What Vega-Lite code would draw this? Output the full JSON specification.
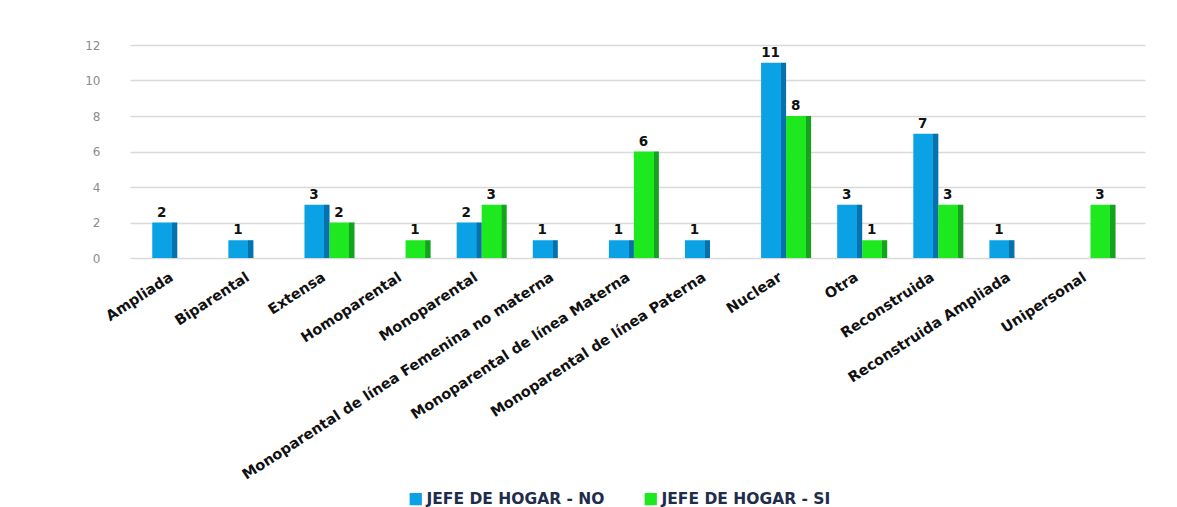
{
  "$schema": "https://vega.github.io/schema/vega-lite/v6.json",
  "width": 1015,
  "height": 213,
  "autosize": "none",
  "padding": {"left": 130, "top": 45, "right": 32, "bottom": 249},
  "background": "white",
  "config": {"view": {"stroke": null}, "font": "DejaVu Sans"},
  "data": {
    "values": [
      {"tipo": "Ampliada", "serie": "JEFE DE HOGAR - NO", "valor": 2},
      {"tipo": "Biparental", "serie": "JEFE DE HOGAR - NO", "valor": 1},
      {"tipo": "Extensa", "serie": "JEFE DE HOGAR - NO", "valor": 3},
      {"tipo": "Extensa", "serie": "JEFE DE HOGAR - SI", "valor": 2},
      {"tipo": "Homoparental", "serie": "JEFE DE HOGAR - SI", "valor": 1},
      {"tipo": "Monoparental", "serie": "JEFE DE HOGAR - NO", "valor": 2},
      {"tipo": "Monoparental", "serie": "JEFE DE HOGAR - SI", "valor": 3},
      {"tipo": "Monoparental de línea Femenina no materna", "serie": "JEFE DE HOGAR - NO", "valor": 1},
      {"tipo": "Monoparental de línea Materna", "serie": "JEFE DE HOGAR - NO", "valor": 1},
      {"tipo": "Monoparental de línea Materna", "serie": "JEFE DE HOGAR - SI", "valor": 6},
      {"tipo": "Monoparental de línea Paterna", "serie": "JEFE DE HOGAR - NO", "valor": 1},
      {"tipo": "Nuclear", "serie": "JEFE DE HOGAR - NO", "valor": 11},
      {"tipo": "Nuclear", "serie": "JEFE DE HOGAR - SI", "valor": 8},
      {"tipo": "Otra", "serie": "JEFE DE HOGAR - NO", "valor": 3},
      {"tipo": "Otra", "serie": "JEFE DE HOGAR - SI", "valor": 1},
      {"tipo": "Reconstruida", "serie": "JEFE DE HOGAR - NO", "valor": 7},
      {"tipo": "Reconstruida", "serie": "JEFE DE HOGAR - SI", "valor": 3},
      {"tipo": "Reconstruida Ampliada", "serie": "JEFE DE HOGAR - NO", "valor": 1},
      {"tipo": "Unipersonal", "serie": "JEFE DE HOGAR - SI", "valor": 3}
    ]
  },
  "encoding": {
    "x": {
      "field": "tipo", "type": "nominal", "sort": null,
      "scale": {"paddingInner": 0.343, "paddingOuter": 0.34, "align": 0.43},
      "axis": {
        "title": null, "labelAngle": -33, "labelFontWeight": "bold", "labelFontSize": 14.5,
        "labelColor": "#111111", "ticks": false, "domain": false, "labelPadding": 12,
        "labelLimit": 0, "labelOffset": -9
      }
    },
    "xOffset": {"field": "serie", "type": "nominal", "scale": {"domain": ["JEFE DE HOGAR - NO", "JEFE DE HOGAR - SI"], "paddingInner": 0}},
    "y": {
      "field": "valor", "type": "quantitative",
      "scale": {"domain": [0, 12], "nice": false},
      "axis": {
        "title": null, "values": [0, 2, 4, 6, 8, 10, 12], "labelColor": "#8c8c8c", "labelFontSize": 12,
        "ticks": false, "domain": false, "labelPadding": 30, "gridColor": "#d9d9d9", "gridWidth": 1.5
      }
    }
  },
  "layer": [
    {
      "mark": {"type": "bar"},
      "encoding": {
        "color": {
          "field": "serie", "type": "nominal",
          "scale": {"domain": ["JEFE DE HOGAR - NO", "JEFE DE HOGAR - SI"], "range": ["#0aa2e4", "#1ee81e"]},
          "legend": {
            "title": null, "orient": "none", "direction": "horizontal", "legendX": 278, "legendY": 446,
            "symbolType": "square", "symbolSize": 150, "symbolOpacity": 1, "labelFontWeight": "bold", "labelFontSize": 15.5,
            "labelColor": "#1f2d4d", "columnPadding": 38, "symbolStrokeWidth": 0, "labelOffset": 3, "labelLimit": 0
          }
        }
      }
    },
    {
      "mark": {
        "type": "bar",
        "fill": {
          "gradient": "linear", "x1": 0, "x2": 1, "y1": 0, "y2": 0,
          "stops": [
            {"offset": 0, "color": "rgba(0,0,0,0)"},
            {"offset": 0.79, "color": "rgba(0,0,0,0)"},
            {"offset": 0.8, "color": "rgba(0,0,40,0.3)"},
            {"offset": 1, "color": "rgba(0,0,40,0.3)"}
          ]
        }
      }
    },
    {
      "mark": {"type": "text", "dy": -10, "dx": -3, "fontWeight": "bold", "fontSize": 13.5, "color": "#111111"},
      "encoding": {"text": {"field": "valor", "type": "quantitative"}}
    }
  ]
}
